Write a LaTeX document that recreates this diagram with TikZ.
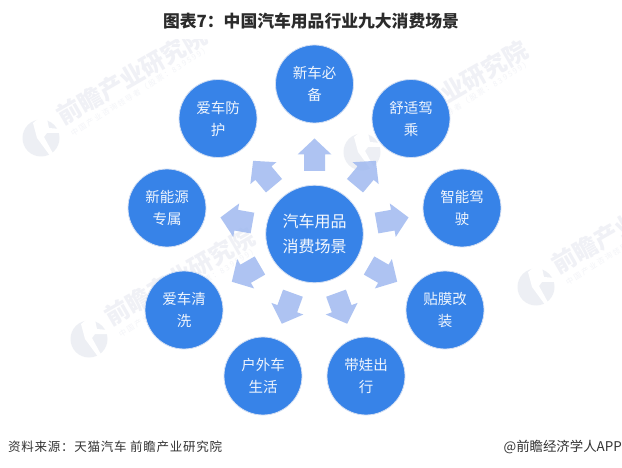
\documentclass[tikz,border=0pt]{standalone}
\usepackage{fontspec}
\setmainfont{Noto Sans CJK SC}
\definecolor{circblue}{HTML}{3783E8}
\definecolor{circring}{HTML}{D3DFF3}
\definecolor{arrowblue}{HTML}{9AB5EF}
\definecolor{wmgray}{HTML}{EDEFF4}
\definecolor{wmtext}{HTML}{F0F1F6}
\definecolor{wmlight}{HTML}{F3F4F8}
\definecolor{inktitle}{HTML}{2B2B2B}
\definecolor{inkfoot}{HTML}{333333}
\tikzset{
  outer/.style={circle,fill=circblue,draw=circring,line width=0.8pt,minimum size=78pt,inner sep=0pt,align=center,
    text=white!92!circblue,font=\fontsize{14.5}{22}\selectfont},
  hub/.style={circle,fill=circblue,draw=circring,line width=0.8pt,minimum size=97.5pt,inner sep=0pt,align=center,
    text=white!95!circblue,font=\fontsize{16}{25}\selectfont},
  blockarrow/.style={fill=arrowblue,fill opacity=.8,draw=none},
  wmbig/.style={text=wmtext,font=\fontsize{24}{24}\selectfont\bfseries,inner sep=0pt},
  wmsmall/.style={text=wmlight,font=\fontsize{7.5}{8}\selectfont\addfontfeature{LetterSpace=22},inner sep=0pt},
  foot/.style={text=inkfoot,inner sep=0pt}
}
\newcommand{\wmark}[3]{%
  \begin{scope}[shift={(#2,#3)}]
    \node[circle,fill=wmgray,minimum size=37pt,inner sep=0pt] (#1logo) at (0,0) {};
    \fill[white] (-8,-15) -- (-3,-19) -- (6,-19) -- (8,-10) -- (19,-9) -- (19,-5) -- (6,-5) -- (3,-1) -- (14,19) -- (10,19) -- (-4,0) -- cycle;
    \node[wmbig,rotate=30] (#1big) at (91,-62) {前瞻产业研究院};
    \node[wmsmall,rotate=32] (#1small) at (99,-47) {中国产业咨询领导者（股票：839599）};
  \end{scope}}
\begin{document}
\begin{tikzpicture}[x=1pt,y=-1pt]
\useasboundingbox (0,0) rectangle (622,468);
\fill[white] (0,0) rectangle (622,468);
\begin{scope}
  \clip (0,40) rectangle (622,468);
  \wmark{a}{41}{138}
  \wmark{b}{362}{152}
  \wmark{c}{89}{339}
  \wmark{d}{536}{287}
\end{scope}
\node[font=\fontsize{16.8}{18}\selectfont\bfseries,text=inktitle,inner sep=0pt] (title) at (311,21) {图表7：中国汽车用品行业九大消费场景};
\node[hub] (cen) at (314.5,234) {汽车用品\\消费场景};
\foreach \a in {0,40,...,320}{
  \begin{scope}[shift={(cen.center)},rotate=\a]
    \fill[blockarrow] (0,-95.5) -- (17,-79.5) -- (10.5,-79.5) -- (10.5,-63) -- (-10.5,-63) -- (-10.5,-79.5) -- (-17,-79.5) -- cycle;
  \end{scope}
}
\node[outer] (n1) at (314.5,84) {新车必\\备};
\node[outer] (n2) at (411,118.5) {舒适驾\\乘};
\node[outer] (n3) at (462,208) {智能驾\\驶};
\node[outer] (n4) at (445,310) {贴膜改\\装};
\node[outer] (n5) at (366,376) {带娃出\\行};
\node[outer] (n6) at (263,376) {户外车\\生活};
\node[outer] (n7) at (184,310) {爱车清\\洗};
\node[outer] (n8) at (167,208) {新能源\\专属};
\node[outer] (n9) at (218,118.5) {爱车防\\护};
\node[foot,anchor=west,font=\fontsize{12.5}{14}\selectfont\addfontfeature{LetterSpace=6}] (src) at (8,447) {资料来源：天猫汽车 前瞻产业研究院};
\node[foot,anchor=east,font=\fontsize{13.4}{14}\selectfont] (brand) at (622,447) {@前瞻经济学人APP};
\end{tikzpicture}
\end{document}
